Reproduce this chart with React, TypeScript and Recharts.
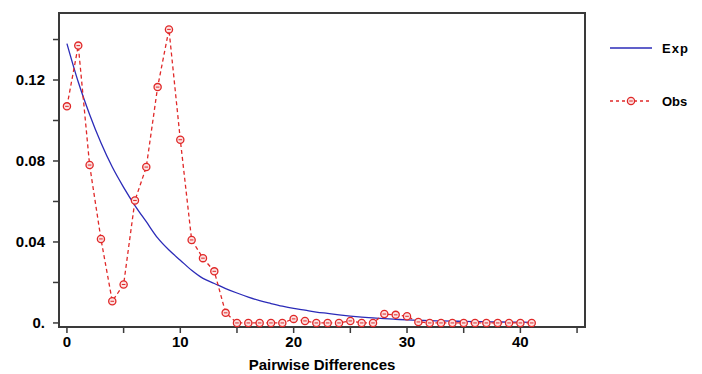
import { LineChart, Line, XAxis, YAxis, ReferenceArea } from "recharts";

// pairwise differences 0..41
const diffs = [
  0, 1, 2, 3, 4, 5, 6, 7, 8, 9, 10, 11, 12, 13, 14, 15, 16, 17, 18, 19, 20,
  21, 22, 23, 24, 25, 26, 27, 28, 29, 30, 31, 32, 33, 34, 35, 36, 37, 38, 39,
  40, 41,
];

// observed mismatch frequencies
const obsFreq = [
  0.107, 0.137, 0.078, 0.0415, 0.0107, 0.019, 0.0605, 0.077, 0.1165, 0.145,
  0.0905, 0.041, 0.032, 0.0255, 0.005, 0, 0, 0, 0, 0, 0.002, 0.001, 0, 0, 0,
  0.001, 0, 0, 0.0044, 0.004, 0.0033, 0.0005, 0, 0, 0, 0, 0, 0, 0, 0, 0, 0,
];

// expected frequencies
const expFreq = [
  0.138, 0.119, 0.103, 0.089, 0.077, 0.067, 0.058, 0.05, 0.042, 0.036, 0.031,
  0.026, 0.022, 0.0195, 0.017, 0.0148, 0.0128, 0.011, 0.0096, 0.0083, 0.0072,
  0.0063, 0.0054, 0.0047, 0.004, 0.0034, 0.0029, 0.0025, 0.0021, 0.0018,
  0.0015, 0.0013, 0.0011, 0.001, 0.0009, 0.0008, 0.0007, 0.0006, 0.0005,
  0.0004, 0.0004, 0.0003,
];

const xTicks = [0, 5, 10, 15, 20, 25, 30, 35, 40, 45];
const yTicks = [0, 0.02, 0.04, 0.06, 0.08, 0.1, 0.12, 0.14];

const data = diffs.map((d, i) => ({ diff: d, obs: obsFreq[i], exp: expFreq[i] }));

const EXP_COLOR = "#2b2bb8";
const OBS_COLOR = "#e02828";
const AXIS_COLOR = "#3a3a3a";
const FONT = "'Liberation Sans', Arial, sans-serif";

const tickStyle = { fontSize: 15, fontWeight: 700, fill: "#000", fontFamily: FONT };

function ObsDot({ cx, cy }: { cx: number; cy: number }) {
  return (
    <g>
      <circle cx={cx} cy={cy} r={3.6} fill="#fbe3e3" stroke={OBS_COLOR} strokeWidth={1.3} />
      <line x1={cx - 1.8} y1={cy} x2={cx + 1.8} y2={cy} stroke={OBS_COLOR} strokeWidth={1} />
    </g>
  );
}

function formatY(v: number) {
  const hundredths = Math.round(v * 100);
  if (hundredths % 4 !== 0) return "";
  return v === 0 ? "0." : v.toFixed(2);
}

function formatX(v: number) {
  return v % 10 === 0 ? String(v) : "";
}

function LegendBox() {
  return (
    <svg width={95} height={80} style={{ position: "absolute", left: 605, top: 35 }}>
      <line x1={5} y1={13} x2={47} y2={13} stroke={EXP_COLOR} strokeWidth={1.3} />
      <text x={57} y={18} style={{ ...tickStyle, fontSize: 13, letterSpacing: 1 }}>
        Exp
      </text>
      <line
        x1={5}
        y1={66}
        x2={47}
        y2={66}
        stroke={OBS_COLOR}
        strokeWidth={1.3}
        strokeDasharray="3 3"
      />
      <ObsDot cx={26} cy={66} />
      <text x={57} y={71} style={{ ...tickStyle, fontSize: 13 }}>
        Obs
      </text>
    </svg>
  );
}

export default function App() {
  return (
    <div style={{ position: "absolute", left: 0, top: 0, width: 702, height: 374, background: "#fff" }}>
      <LineChart
        width={702}
        height={374}
        data={data}
        margin={{ top: 13, right: 117, bottom: 0, left: 0 }}
        style={{ fontFamily: FONT }}
      >
        <XAxis
          dataKey="diff"
          type="number"
          domain={[-0.7, 45.7]}
          ticks={xTicks}
          tickFormatter={formatX}
          interval={0}
          height={47}
          tickSize={6}
          tickMargin={3}
          stroke={AXIS_COLOR}
          axisLine={{ stroke: AXIS_COLOR, strokeWidth: 2 }}
          tickLine={{ stroke: AXIS_COLOR, strokeWidth: 1.5 }}
          tick={tickStyle}
          label={{
            value: "Pairwise Differences",
            position: "insideBottom",
            offset: 4,
            style: tickStyle,
          }}
        />
        <YAxis
          type="number"
          domain={[-0.002, 0.1531]}
          ticks={yTicks}
          tickFormatter={formatY}
          interval={0}
          width={59}
          tickSize={6}
          tickMargin={8}
          axisLine={{ stroke: AXIS_COLOR, strokeWidth: 2 }}
          tickLine={{ stroke: AXIS_COLOR, strokeWidth: 1.5 }}
          tick={tickStyle}
        />
        <ReferenceArea
          x1={-0.7}
          x2={45.7}
          y1={-0.002}
          y2={0.1531}
          fill="none"
          stroke={AXIS_COLOR}
          strokeWidth={2}
        />
        <Line
          type="monotone"
          dataKey="exp"
          stroke={EXP_COLOR}
          strokeWidth={1.3}
          dot={false}
          isAnimationActive={false}
        />
        <Line
          type="linear"
          dataKey="obs"
          stroke={OBS_COLOR}
          strokeWidth={1.3}
          strokeDasharray="4 3"
          dot={(p: any) => <ObsDot key={p.index} cx={p.cx} cy={p.cy} />}
          isAnimationActive={false}
        />
      </LineChart>
      <LegendBox />
    </div>
  );
}
